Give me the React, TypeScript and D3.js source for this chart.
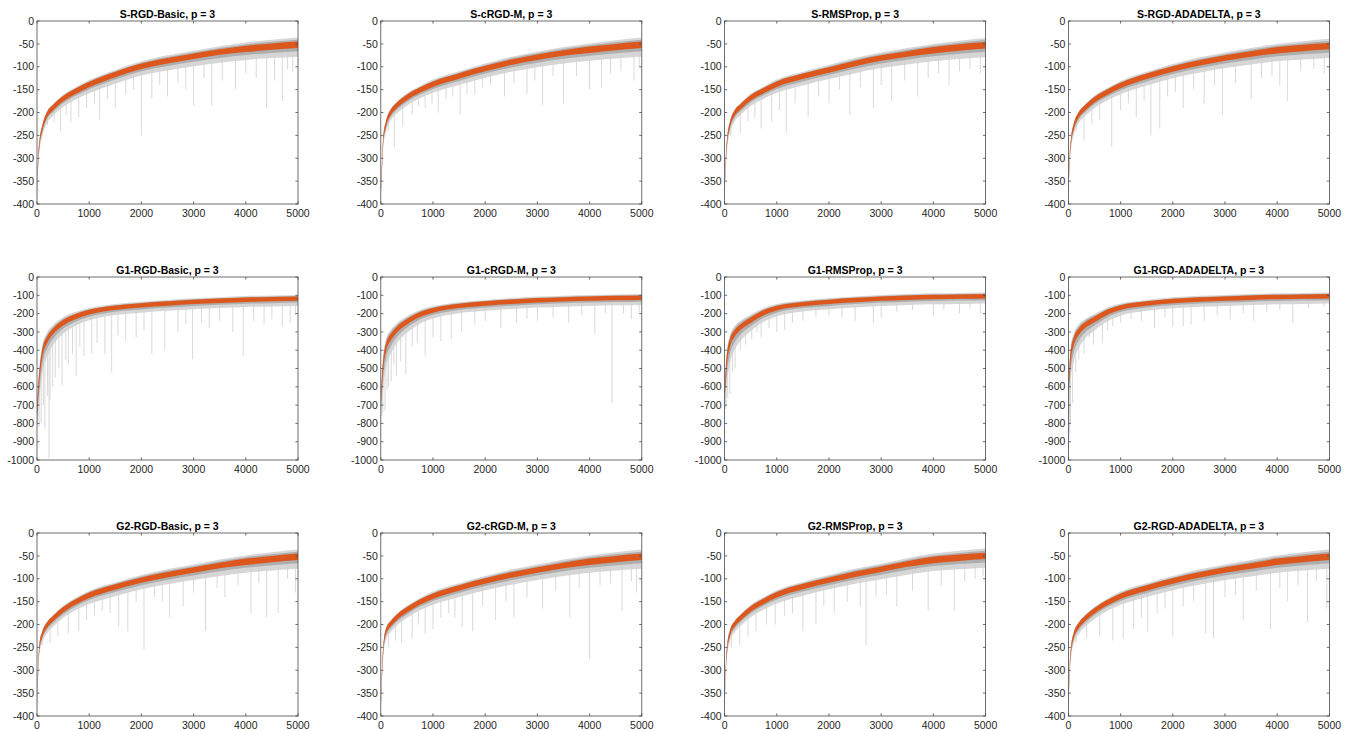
import React from 'react';
import * as d3 from 'd3';

const xGrid = [0, 25, 50, 100, 200, 300, 500, 750, 1000, 1500, 2000, 2500, 3000, 3500, 4000, 4500, 5000];
const xTicks = [0, 1000, 2000, 3000, 4000, 5000];
const yTicksSmall = [0, -50, -100, -150, -200, -250, -300, -350, -400];
const yTicksLarge = [0, -100, -200, -300, -400, -500, -600, -700, -800, -900, -1000];

const titles = [
  'S-RGD-Basic, p = 3', 'S-cRGD-M, p = 3', 'S-RMSProp, p = 3', 'S-RGD-ADADELTA, p = 3',
  'G1-RGD-Basic, p = 3', 'G1-cRGD-M, p = 3', 'G1-RMSProp, p = 3', 'G1-RGD-ADADELTA, p = 3',
  'G2-RGD-Basic, p = 3', 'G2-cRGD-M, p = 3', 'G2-RMSProp, p = 3', 'G2-RGD-ADADELTA, p = 3',
];

// mean (orange) curves
const meanSBasic = [-380, -300, -265, -235, -203, -190, -170, -153, -139, -117, -99, -87, -77, -68, -61, -56, -52];
const meanSMom = [-380, -310, -255, -225, -198, -185, -167, -151, -138, -120, -104, -90, -79, -70, -63, -57, -52];
const meanSRms = [-375, -300, -260, -228, -200, -188, -168, -152, -138, -121, -107, -93, -81, -72, -64, -58, -53];
const meanSAda = [-380, -300, -262, -232, -205, -192, -172, -155, -141, -121, -105, -92, -81, -72, -64, -59, -55];
const meanG1Basic = [-740, -620, -530, -420, -340, -300, -250, -215, -192, -168, -155, -145, -136, -130, -124, -121, -118];
const meanG1Mom = [-690, -560, -470, -385, -325, -290, -245, -205, -182, -158, -145, -135, -127, -122, -118, -115, -113];
const meanG1Rms = [-655, -520, -436, -364, -305, -275, -236, -195, -170, -148, -136, -126, -118, -113, -109, -107, -105];
const meanG1Ada = [-620, -500, -418, -355, -298, -268, -232, -192, -167, -145, -131, -123, -118, -113, -109, -107, -105];
const meanG2Basic = [-380, -290, -245, -222, -200, -188, -168, -150, -136, -118, -103, -91, -81, -71, -63, -57, -52];
const meanG2Mom = [-385, -300, -250, -215, -197, -185, -168, -151, -138, -120, -105, -92, -81, -71, -63, -57, -52];
const meanG2Rms = [-380, -290, -250, -220, -198, -186, -166, -149, -135, -117, -103, -90, -79, -68, -59, -54, -50];
const meanG2Ada = [-385, -295, -255, -225, -202, -189, -170, -152, -138, -120, -105, -92, -81, -72, -63, -57, -52];

// spread of the grey runs around the mean, per row
const upSmall = [4, 8, 8, 8, 8, 8, 9, 9, 10, 10, 11, 12, 12, 13, 14, 15, 16];
const downSmall = [8, 18, 18, 18, 18, 18, 18, 18, 19, 20, 20, 21, 22, 23, 24, 25, 26];
const orangeSmall = [4, 7, 6, 6, 6, 6, 6, 6, 6, 6, 6, 6, 6, 6, 7, 7, 7];
const upLarge = [30, 50, 50, 45, 40, 35, 30, 25, 22, 20, 20, 20, 20, 20, 20, 20, 20];
const downLarge = [90, 130, 130, 110, 90, 75, 60, 50, 45, 40, 40, 40, 40, 40, 40, 40, 40];
const orangeLarge = [15, 35, 28, 22, 18, 16, 15, 14, 13, 12, 12, 12, 12, 12, 12, 12, 12];

// isolated downward spikes of single runs [iteration, value]
const spikesSBasic = [[120, -235], [200, -228], [330, -220], [450, -240], [560, -205], [650, -220], [800, -210], [950, -190], [1100, -180], [1200, -215], [1350, -170], [1500, -190], [1700, -160], [1850, -150], [2000, -250], [2200, -170], [2350, -140], [2500, -165], [2700, -135], [2850, -150], [3000, -185], [3200, -125], [3350, -185], [3550, -130], [3800, -150], [4000, -115], [4200, -125], [4400, -190], [4550, -130], [4700, -175], [4800, -105], [4900, -110]];
const spikesSMom = [[150, -240], [260, -275], [420, -230], [600, -205], [720, -185], [850, -190], [980, -180], [1100, -200], [1250, -170], [1380, -165], [1520, -205], [1650, -160], [1800, -160], [1950, -145], [2100, -140], [2370, -165], [2550, -135], [2800, -160], [2950, -130], [3100, -185], [3300, -120], [3500, -180], [3750, -120], [4000, -150], [4230, -145], [4400, -115], [4600, -110], [4850, -130], [4950, -100]];
const spikesSRms = [[120, -250], [300, -245], [450, -220], [580, -210], [700, -235], [900, -220], [1050, -195], [1180, -245], [1350, -180], [1600, -210], [1800, -165], [2000, -180], [2200, -150], [2400, -205], [2600, -145], [2850, -190], [3000, -140], [3200, -175], [3450, -130], [3700, -165], [3900, -125], [4100, -115], [4300, -140], [4500, -110], [4700, -105], [4900, -115]];
const spikesSAda = [[150, -240], [300, -260], [450, -225], [600, -215], [830, -275], [1000, -195], [1150, -180], [1300, -210], [1450, -175], [1580, -250], [1750, -235], [1900, -165], [2050, -155], [2200, -190], [2400, -150], [2600, -180], [2800, -140], [2950, -205], [3200, -135], [3500, -170], [3700, -125], [3900, -120], [4050, -140], [4200, -175], [4450, -110], [4700, -105], [4900, -115]];
const spikesG1Basic = [[40, -820], [80, -800], [120, -700], [150, -830], [200, -650], [230, -990], [250, -670], [300, -600], [350, -550], [420, -500], [480, -590], [550, -450], [600, -480], [680, -420], [750, -540], [820, -380], [900, -430], [1050, -420], [1150, -360], [1300, -420], [1430, -520], [1550, -320], [1700, -350], [1900, -330], [2050, -290], [2200, -420], [2450, -400], [2700, -300], [2850, -260], [2980, -450], [3150, -250], [3300, -280], [3500, -240], [3750, -300], [3950, -430], [4150, -240], [4350, -260], [4500, -230], [4700, -270], [4850, -250], [4950, -210]];
const spikesG1Mom = [[20, -760], [40, -740], [80, -730], [120, -620], [150, -600], [200, -570], [250, -480], [300, -540], [380, -460], [480, -530], [600, -380], [700, -360], [850, -430], [1000, -330], [1150, -350], [1350, -340], [1550, -300], [1800, -260], [2000, -240], [2300, -280], [2600, -250], [2800, -230], [3000, -240], [3300, -220], [3600, -250], [3850, -210], [4100, -310], [4300, -200], [4430, -690], [4650, -200], [4800, -230], [4950, -190]];
const spikesG1Rms = [[15, -720], [30, -700], [60, -660], [100, -640], [150, -520], [200, -500], [300, -400], [400, -370], [520, -340], [620, -300], [700, -330], [850, -280], [1000, -300], [1150, -290], [1300, -250], [1500, -240], [1750, -220], [2000, -210], [2250, -220], [2500, -240], [2850, -250], [3000, -220], [3300, -190], [3600, -180], [4000, -210], [4200, -180], [4500, -200], [4700, -170], [4900, -200]];
const spikesG1Ada = [[10, -890], [25, -850], [40, -800], [80, -690], [140, -520], [200, -450], [300, -420], [400, -330], [480, -370], [650, -360], [750, -290], [850, -270], [1000, -250], [1200, -230], [1400, -240], [1650, -280], [1850, -220], [2000, -270], [2200, -270], [2350, -260], [2600, -240], [2850, -210], [3100, -230], [3350, -200], [3550, -240], [3800, -190], [4050, -180], [4300, -250], [4600, -170], [4900, -160]];
const spikesG2Basic = [[100, -245], [250, -240], [400, -225], [600, -220], [800, -215], [950, -190], [1100, -180], [1250, -170], [1400, -175], [1565, -204], [1740, -215], [1900, -150], [2050, -255], [2250, -140], [2400, -150], [2540, -185], [2800, -160], [3000, -130], [3230, -215], [3450, -120], [3600, -140], [3850, -115], [4100, -175], [4250, -110], [4400, -185], [4620, -175], [4800, -100], [4950, -130]];
const spikesG2Mom = [[150, -250], [280, -235], [400, -240], [600, -230], [720, -200], [850, -220], [1000, -210], [1150, -185], [1300, -175], [1420, -185], [1560, -205], [1760, -215], [1950, -160], [2200, -190], [2400, -150], [2550, -185], [2800, -140], [3100, -165], [3350, -125], [3620, -185], [3800, -120], [4000, -275], [4200, -115], [4400, -110], [4620, -170], [4800, -105], [4900, -130]];
const spikesG2Rms = [[130, -250], [290, -245], [450, -225], [600, -215], [800, -200], [970, -200], [1150, -180], [1300, -175], [1500, -215], [1750, -200], [1900, -160], [2100, -175], [2350, -150], [2600, -160], [2710, -245], [2900, -140], [3100, -135], [3300, -160], [3600, -125], [3900, -170], [4150, -115], [4400, -170], [4600, -105], [4800, -100], [4950, -95]];
const spikesG2Ada = [[150, -240], [350, -230], [600, -225], [850, -235], [1050, -230], [1250, -210], [1400, -185], [1520, -215], [1700, -175], [1850, -165], [2000, -225], [2200, -160], [2400, -150], [2630, -220], [2780, -230], [3000, -140], [3200, -135], [3350, -190], [3600, -125], [3870, -210], [4050, -120], [4200, -150], [4400, -115], [4580, -195], [4750, -105], [4950, -165]];

const means = [meanSBasic, meanSMom, meanSRms, meanSAda, meanG1Basic, meanG1Mom, meanG1Rms, meanG1Ada, meanG2Basic, meanG2Mom, meanG2Rms, meanG2Ada];
const spikes = [spikesSBasic, spikesSMom, spikesSRms, spikesSAda, spikesG1Basic, spikesG1Mom, spikesG1Rms, spikesG1Ada, spikesG2Basic, spikesG2Mom, spikesG2Rms, spikesG2Ada];

const W = 1354;
const H = 731;
const left0 = 37, colStep = 343.8, pw = 261;
const top0 = 21, rowStep = 256, ph = 183;
const ORANGE = '#DD561B';
const FONT = '"Liberation Sans", Arial, Helvetica, sans-serif';

function Panel({ idx }: { idx: number }) {
  const row = Math.floor(idx / 4);
  const col = idx % 4;
  const left = left0 + col * colStep;
  const top = top0 + row * rowStep;
  const large = row === 1;
  const yMin = large ? -1000 : -400;
  const yTicks = large ? yTicksLarge : yTicksSmall;
  const up = large ? upLarge : upSmall;
  const down = large ? downLarge : downSmall;
  const oh = large ? orangeLarge : orangeSmall;
  const mean = means[idx];

  const x = d3.scaleLinear().domain([0, 5000]).range([left, left + pw]);
  const y = d3.scaleLinear().domain([yMin, 0]).range([top + ph, top]);
  const meanAt = d3.scaleLinear().domain(xGrid).range(mean);

  const pts = xGrid.map((g, i) => ({ g, m: mean[i], u: up[i], d: down[i], o: oh[i] }));
  const mk = (lo: (p: any) => number, hi: (p: any) => number) =>
    d3.area<any>().x(p => x(p.g)).y0(p => y(lo(p))).y1(p => y(hi(p))).curve(d3.curveMonotoneX)(pts) || '';

  const outer = mk(p => p.m - p.d, p => p.m + p.u);
  const inner = mk(p => p.m - p.d * 0.55, p => p.m + p.u * 0.7);
  const orange = mk(p => p.m - p.o, p => p.m + p.o);
  const clipId = `clip-${idx}`;
  const tl = 2.6;

  return (
    <g>
      <defs>
        <clipPath id={clipId}>
          <rect x={left} y={top} width={pw} height={ph} />
        </clipPath>
      </defs>
      <rect x={left} y={top} width={pw} height={ph} fill="#fff" />
      <g clipPath={`url(#${clipId})`}>
        {spikes[idx].map(([sx, sy], i) => (
          <line key={i} x1={x(sx)} x2={x(sx)} y1={y(meanAt(sx))} y2={y(sy)}
            stroke="#c9c9c9" strokeWidth={0.7} />
        ))}
        <path d={outer} fill="#d2d2d2" opacity={0.9} />
        <path d={inner} fill="#a4a4a4" opacity={0.8} />
        <path d={orange} fill={ORANGE} />
      </g>
      {/* box and ticks */}
      <rect x={left} y={top} width={pw} height={ph} fill="none" stroke="#4a4a4a" strokeWidth={0.8} />
      {xTicks.map(t => (
        <g key={`x${t}`}>
          <line x1={x(t)} x2={x(t)} y1={top + ph} y2={top + ph - tl} stroke="#4a4a4a" strokeWidth={0.8} />
          <line x1={x(t)} x2={x(t)} y1={top} y2={top + tl} stroke="#4a4a4a" strokeWidth={0.8} />
          <text x={x(t)} y={top + ph + 13} textAnchor="middle" fontSize={10.5} fontFamily={FONT} fill="#262626">{t}</text>
        </g>
      ))}
      {yTicks.map(t => (
        <g key={`y${t}`}>
          <line x1={left} x2={left + tl} y1={y(t)} y2={y(t)} stroke="#4a4a4a" strokeWidth={0.8} />
          <line x1={left + pw} x2={left + pw - tl} y1={y(t)} y2={y(t)} stroke="#4a4a4a" strokeWidth={0.8} />
          <text x={left - 3} y={y(t)} dy="0.35em" textAnchor="end" fontSize={10.5} fontFamily={FONT} fill="#262626">{t}</text>
        </g>
      ))}
      <text x={left + pw / 2} y={top - 3} textAnchor="middle" fontSize={10.5} fontWeight="bold" fontFamily={FONT} fill="#000">
        {titles[idx]}
      </text>
    </g>
  );
}

export default function App() {
  return (
    <svg width={W} height={H} style={{ position: 'absolute', left: 0, top: 0, background: '#fff' }}>
      <rect width={W} height={H} fill="#fff" />
      {titles.map((_, i) => <Panel key={i} idx={i} />)}
    </svg>
  );
}
